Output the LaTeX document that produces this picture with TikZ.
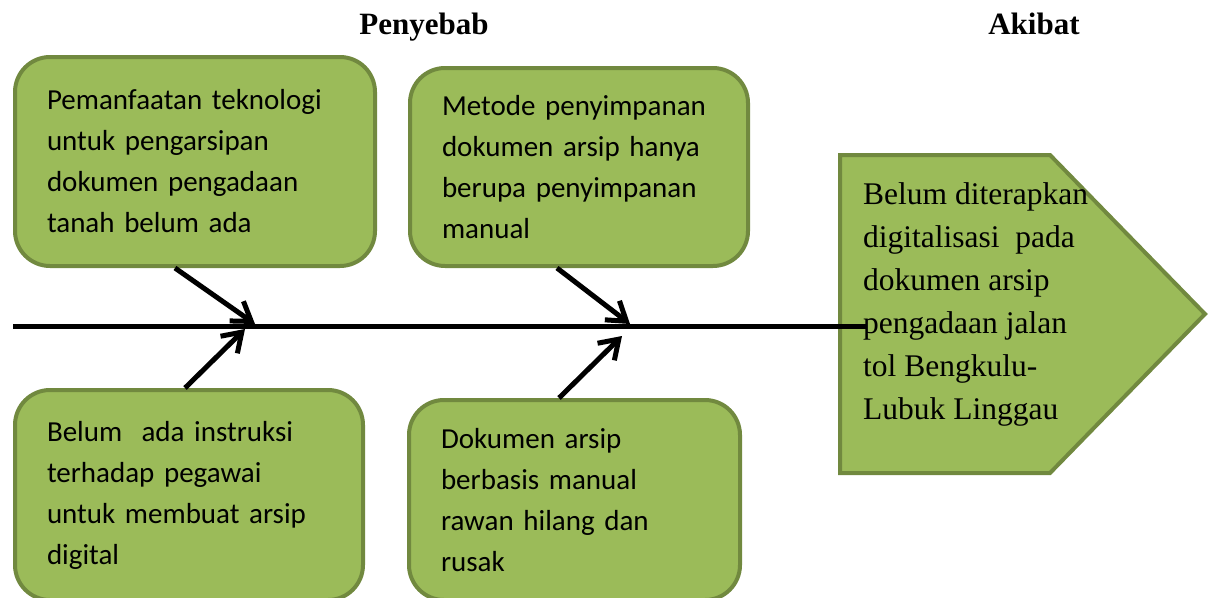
\documentclass[tikz,border=0pt]{standalone}
\usepackage{fontspec}
\setmainfont{Liberation Serif}
\newfontfamily\calib{Carlito}
\usetikzlibrary{arrows.meta}
\definecolor{boxfill}{HTML}{9BBB59}
\definecolor{boxline}{HTML}{71893F}
\begin{document}
\begin{tikzpicture}[x=1pt,y=-1pt,
  cause/.style={draw=boxline, fill=boxfill, line width=4pt, rounded corners=35pt,
    inner sep=0pt, align=left, anchor=north west,
    font=\calib\fontsize{29}{41}\selectfont},
  effectshape/.style={draw=boxline, fill=boxfill, line width=4pt},
  effecttext/.style={inner sep=0pt, align=left, anchor=north west,
    font=\fontsize{31.5}{43}\selectfont},
  bone/.style={line width=5pt, -{Straight Barb[length=18pt,width=24pt]}},
  spine/.style={line width=5pt},
  title/.style={anchor=base, font=\bfseries\fontsize{31}{36}\selectfont}
]
\useasboundingbox (0,0) rectangle (1209,597);

% titles
\node[title] (pen) at (424,34) {Penyebab};
\node[title] (aki) at (1034,34) {Akibat};

% cause boxes
\node[cause, minimum width=360pt, minimum height=209pt, text width=296pt] (c1) at (13,55)
  {Pemanfaatan teknologi\\untuk pengarsipan\\dokumen pengadaan\\tanah belum ada};
\node[cause, minimum width=338pt, minimum height=198pt, text width=274pt] (c2) at (408,66)
  {Metode penyimpanan\\dokumen arsip hanya\\berupa penyimpanan\\manual};
\node[cause, minimum width=348pt, minimum height=210pt, text width=284pt] (c3) at (13,388)
  {Belum~ ada instruksi\\terhadap pegawai\\untuk membuat arsip\\digital};
\node[cause, minimum width=331pt, minimum height=200pt, text width=267pt] (c4) at (407,398)
  {Dokumen arsip\\berbasis manual\\rawan hilang dan\\rusak};

% effect shape
\draw[effectshape] (840,155) -- (1050,155) -- (1205,314) -- (1050,473) -- (840,473) -- cycle;
\node[effecttext] (eff) at (863,182)
  {Belum diterapkan\\digitalisasi~ pada\\dokumen arsip\\pengadaan jalan\\tol Bengkulu-\\Lubuk Linggau};

% spine
\coordinate (s0) at (13,326);
\coordinate (s1) at (867,326);
\draw[spine] (s0) -- (s1);

% bone tips
\coordinate (t1a) at (255,324);
\coordinate (t1b) at (245,329);
\coordinate (t2a) at (630,324);
\coordinate (t2b) at (622,336);

\draw[bone] ([xshift=162pt]c1.south west) -- (t1a);
\draw[bone] ([xshift=172pt]c3.north west) -- (t1b);
\draw[bone] ([xshift=149pt]c2.south west) -- (t2a);
\draw[bone] ([xshift=152pt]c4.north west) -- (t2b);
\end{tikzpicture}
\end{document}
